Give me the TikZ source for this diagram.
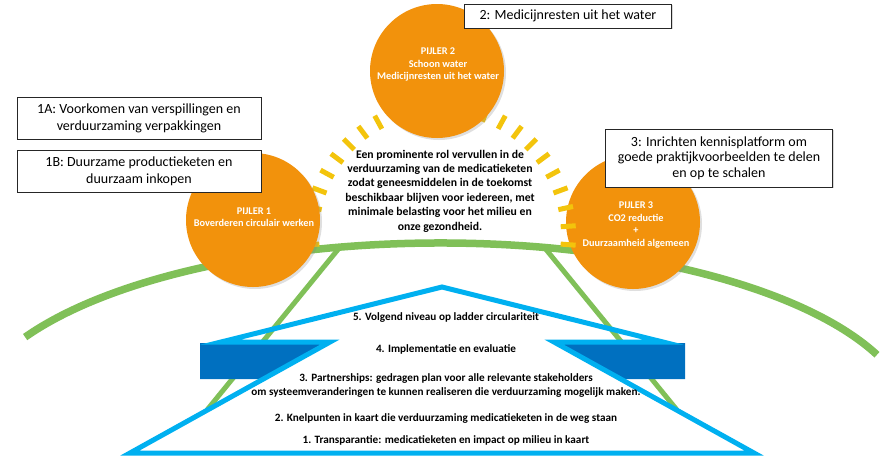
\documentclass[tikz,border=0pt]{standalone}
\usepackage{fontspec}
\setmainfont{Carlito}
\usepackage{tikz}
\usetikzlibrary{positioning, shadows}
\definecolor{pijleroranje}{RGB}{242,146,12}
\definecolor{boggroen}{RGB}{128,192,88}
\definecolor{zongeel}{RGB}{243,196,12}
\definecolor{lichtblauw}{RGB}{0,176,240}
\definecolor{donkerblauw}{RGB}{0,112,192}

\begin{document}
\begin{tikzpicture}[x=1pt, y=-1pt,
        pijler/.style={circle, fill=pijleroranje, minimum size=134pt, inner sep=0pt,
            drop shadow={shadow xshift=2pt, shadow yshift=-2pt, opacity=.25}},
        pijlertekst/.style={text=white, align=center,
            font=\fontsize{10.3}{12.5}\selectfont\bfseries},
        doelbox/.style={draw=black!85, line width=1pt, fill=white, align=center,
            font=\fontsize{14}{16.8}\selectfont, inner sep=2pt,
            drop shadow={shadow xshift=1.2pt, shadow yshift=-1.2pt, opacity=.3}},
        straal/.style={zongeel, line width=5pt},
        boog/.style={boggroen, line width=7.5pt},
        niveau/.style={align=center, font=\fontsize{11.2}{14}\selectfont\bfseries}
    ]
        \useasboundingbox (0,0) rectangle (880,456);

        % 绿色弧线和两条斜线
        \coordinate (boogmidden) at (440,424);
        \draw[boog] (boogmidden) ++(208.7:473 and 181) arc[start angle=208.7, end angle=337.5,
            x radius=473, y radius=181];
        \coordinate (lijnLboven) at (340,247);
        \coordinate (lijnLonder) at (207,410);
        \coordinate (lijnRboven) at (544,247);
        \coordinate (lijnRonder) at (677,410);
        \draw[boggroen, line width=5pt] (lijnLboven) -- (lijnLonder);
        \draw[boggroen, line width=5pt] (lijnRboven) -- (lijnRonder);

        % 蓝色三角形
        \coordinate (top) at (442,287);
        \coordinate (dakL) at (221,342);
        \coordinate (bandL) at (330,342);
        \coordinate (voetL) at (130,453);
        \coordinate (voetR) at (754,453);
        \coordinate (bandR) at (554,342);
        \coordinate (dakR) at (663,342);
        \fill[donkerblauw] (200,343) -- (330,343) -- (263,379) -- (200,379) -- cycle;
        \fill[donkerblauw] (554,343) -- (685,343) -- (685,379) -- (621,379) -- cycle;
        \draw[lichtblauw, line width=5pt] (top) -- (dakL) -- (bandL) -- (voetL) -- (voetR)
            -- (bandR) -- (dakR) -- cycle;

        % 三个支柱和太阳光线
        \node[pijler] (pijler3) at (633,222) {};
        \coordinate (zon) at (440,235);
        \foreach \i in {0,...,23}
            \draw[straal, shift={(zon)}] (175.7+\i*8.2:121) -- (175.7+\i*8.2:136);
        \node[pijler] (pijler1) at (253,220) {};
        \node[pijler] (pijler2) at (437,71) {};
        \node[pijlertekst] (p1tekst) at (254,217) {PIJLER 1\\Boverderen circulair werken};
        \node[pijlertekst] (p2tekst) at (438,64.5) {PIJLER 2\\Schoon water\\Medicijnresten uit het water};
        \node[pijlertekst] (p3tekst) at (636,225) {PIJLER 3\\CO2 reductie\\+\\Duurzaamheid algemeen};

        % 目标框
        \node[doelbox, minimum width=244pt, minimum height=42pt] (box1a) at (139,118)
            {1A: Voorkomen van verspillingen en\\verduurzaming verpakkingen};
        \node[doelbox, minimum width=244pt, minimum height=42pt, below=10pt of box1a] (box1b)
            {1B: Duurzame productieketen en\\duurzaam inkopen};
        \node[doelbox, minimum width=207pt, minimum height=24pt] (box2) at (568,16)
            {2: Medicijnresten uit het water};
        \node[doelbox, minimum width=227pt, minimum height=58pt, font=\fontsize{14}{15.6}\selectfont] (box3) at (719,158)
            {3: Inrichten kennisplatform om\\goede praktijkvoorbeelden te delen\\en op te schalen};

        % 中心文字
        \node[align=center, font=\fontsize{11.7}{14.4}\selectfont\bfseries] (kern) at (440,191)
            {Een prominente rol vervullen in de\\verduurzaming van de medicatieketen\\zodat geneesmiddelen in de toekomst\\beschikbaar blijven voor iedereen, met\\minimale belasting voor het milieu en\\onze gezondheid.};

        % 阶梯层级
        \node[niveau] (niveau5) at (446,318) {5. Volgend niveau op ladder circulariteit};
        \node[niveau] (niveau4) at (446,349) {4. Implementatie en evaluatie};
        \node[niveau] (niveau3) at (446,386) {3. Partnerships: gedragen plan voor alle relevante stakeholders\\om systeemveranderingen te kunnen realiseren die verduurzaming mogelijk maken.};
        \node[niveau] (niveau2) at (446,419) {2. Knelpunten in kaart die verduurzaming medicatieketen in de weg staan};
        \node[niveau] (niveau1) at (446,440) {1. Transparantie: medicatieketen en impact op milieu in kaart};
    \end{tikzpicture}
\end{document}
